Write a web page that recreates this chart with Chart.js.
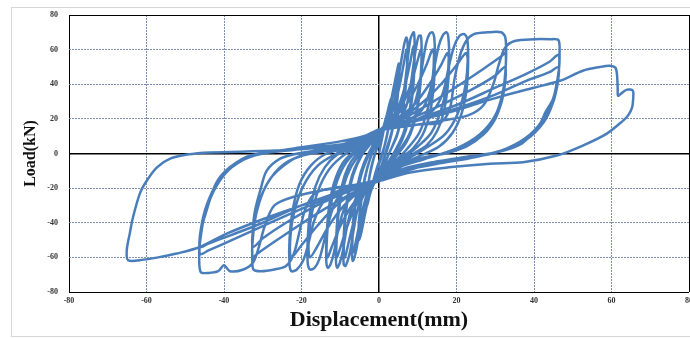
<!DOCTYPE html>
<html><head><meta charset="utf-8">
<script src="https://cdn.jsdelivr.net/npm/chart.js@4"></script>
<style>html,body{margin:0;padding:0;background:#fff;overflow:hidden}</style>
</head><body>
<canvas id="c" width="690" height="338"></canvas>
<script>
// Tick labels
const xTicks = [-80, -60, -40, -20, 0, 20, 40, 60, 80];
const yTicks = [-80, -60, -40, -20, 0, 20, 40, 60, 80];
const xTitle = 'Displacement(mm)';
const yTitle = 'Load(kN)';

// Hysteresis loops: [displacement mm, load kN]
const loop03 = [[0,0],[1,11],[2,22],[3,31],[3.3,32],[3.1,24],[2.4,14],[1.5,5],[0.5,-2],[-0.5,-8],[-1.5,-16],[-2.5,-25],[-3.1,-30],[-3.3,-28],[-2.8,-18],[-2,-8],[-1,0],[0,6],
  [1,14],[2,22],[3,29],[3.2,28],[2.6,17],[1.6,6],[0.5,-3],[-0.8,-11],[-2,-20],[-3,-28],[-3.2,-26],[-2.5,-14],[-1.5,-4],[-0.5,4]];
const loop05 = [[0.5,10],[1.5,16],[2.5,24],[3.5,35],[4.5,46],[5.1,52],[5.3,48],[4.9,36],[4.2,24],[3.2,12],[2,3],[0.8,-6],[-0.5,-13],[-1.5,-18],[-2.6,-25],[-3.6,-35],[-4.5,-45],[-5.1,-50],[-5.3,-45],[-4.9,-32],[-4.1,-19],[-3,-8],[-1.8,0],[-0.5,8],
  [0.5,12],[1.8,19],[3,28],[4.2,40],[5,48],[5.2,44],[4.7,30],[3.8,17],[2.5,5],[1,-5],[-0.3,-13],[-1.8,-20],[-3,-29],[-4.2,-40],[-5,-47],[-5.2,-42],[-4.6,-28],[-3.6,-14],[-2.3,-3],[-0.8,6]];
const loop07 = [[0,12],[1.5,16],[3,22],[4.2,33],[5.2,46],[6,57],[6.6,64],[7.1,67],[7.4,62],[7.3,50],[6.8,36],[5.9,22],[4.6,10],[3,2],[1.2,-7],[0,-14],[-1.5,-18],[-3,-24],[-4.2,-34],[-5.1,-46],[-5.9,-56],[-6.5,-61],[-6.8,-62],[-7,-56],[-6.8,-43],[-6.2,-29],[-5.2,-15],[-3.8,-5],[-2,3],[0,11],
  [2,17],[3.8,26],[5.3,39],[6.4,52],[7.1,60],[7.3,56],[7,42],[6.2,26],[4.8,12],[3,2],[1,-8],[-1,-15],[-3,-23],[-4.6,-36],[-5.8,-49],[-6.6,-57],[-6.9,-55],[-6.6,-40],[-5.8,-25],[-4.4,-11],[-2.5,0],[-0.5,10]];
const loop09 = [[1,13],[3,17],[5,23],[6.2,33],[7,46],[7.6,58],[8.1,66],[8.6,69],[9,70],[9.2,63],[9.1,48],[8.6,33],[7.6,19],[6,8],[4,0],[2,-6],[0,-14],[-2,-18],[-4,-23],[-5.5,-32],[-6.6,-45],[-7.4,-56],[-8.1,-62],[-8.7,-65],[-9.1,-64],[-9.2,-55],[-8.9,-40],[-8.2,-26],[-7,-13],[-5.3,-4],[-3.2,3],[-1.2,8],[0,12],
  [2.5,18],[4.8,26],[6.6,38],[7.9,51],[8.7,60],[9,62],[9.1,55],[8.7,40],[7.8,24],[6.2,11],[4,1],[1.5,-8],[0,-14],[-2.5,-19],[-4.8,-28],[-6.6,-40],[-7.9,-52],[-8.8,-60],[-9.1,-57],[-8.9,-43],[-8.1,-27],[-6.6,-12],[-4.4,-1],[-2,6],[0,12]];
const loop11 = [[2.5,16],[5,20],[7,27],[8.2,40],[9,53],[9.7,63],[10.3,68],[10.8,68],[11,60],[10.8,44],[10.2,30],[9,17],[7.2,7],[5,0],[2.5,-7],[0,-15],[-2.5,-18],[-5,-23],[-7,-31],[-8.4,-44],[-9.3,-56],[-10.1,-63],[-10.8,-66],[-11.1,-62],[-11,-47],[-10.5,-32],[-9.5,-18],[-8,-8],[-6,-1],[-3.5,4],[-1.2,9],[0,13],
  [3,19],[6,28],[8.5,42],[10,54],[10.8,60],[11,56],[10.6,40],[9.6,24],[7.8,11],[5,1],[2,-8],[0,-15],[-3,-20],[-6,-30],[-8.5,-44],[-10.2,-56],[-10.9,-60],[-11,-54],[-10.6,-38],[-9.5,-22],[-7.5,-9],[-4.5,1],[-1.5,8],[0,13]];
const loop14 = [[3,17],[6.5,21],[9,28],[10.4,40],[11.4,54],[12.2,64],[13,69],[13.8,70],[14.3,66],[14.4,52],[14,36],[13,22],[11.3,11],[8.8,3],[6,-2],[3,-8],[0,-15],[-3,-18],[-6.5,-23],[-9,-32],[-10.6,-45],[-11.6,-57],[-12.5,-64],[-13.2,-66],[-13.6,-62],[-13.5,-47],[-12.9,-31],[-11.6,-17],[-9.5,-6],[-7,0],[-4,4],[-1.5,8],[0,13],
  [3.5,20],[7,28],[10,40],[12.4,52],[13.8,60],[14.2,57],[13.8,42],[12.6,26],[10.4,12],[7.4,3],[4,-5],[0,-15],[-3.5,-21],[-7,-30],[-10,-42],[-12.2,-54],[-13.3,-60],[-13.5,-52],[-12.9,-36],[-11.4,-20],[-9,-7],[-5.5,2],[-2,7],[0,13]];
const loop18 = [[4,17],[8,20],[11,25],[13,35],[14.3,50],[15.4,62],[16.4,68],[17.4,70],[17.9,67],[18.1,55],[17.8,40],[16.8,25],[15,13],[12.4,5],[9,0],[5,-6],[0,-15],[-4,-18],[-8,-21],[-11,-27],[-12.8,-38],[-14.2,-51],[-15.4,-61],[-16.6,-66],[-17.8,-67],[-18.4,-63],[-18.4,-50],[-17.8,-34],[-16.4,-19],[-14,-8],[-11,-1],[-7,3],[-3,7],[0,13],
  [4.5,20],[9,28],[13,40],[16,51],[17.6,58],[18,55],[17.5,40],[16,25],[13.5,12],[10,4],[5,-5],[0,-15],[-4.5,-21],[-9,-30],[-13,-42],[-16,-54],[-17.8,-60],[-18.2,-54],[-17.6,-38],[-15.8,-22],[-12.8,-9],[-8.5,0],[-4,5],[0,13]];
const loop23 = [[5,17],[10,20],[14,25],[16.5,35],[18,50],[19.4,62],[20.8,68],[22,69],[22.8,66],[23,52],[22.6,37],[21.3,23],[19,12],[15.5,4],[11,-1],[6,-6],[0,-15],[-5,-18],[-10,-21],[-14,-27],[-16.6,-38],[-18.2,-52],[-19.6,-62],[-21.2,-67],[-22.6,-68],[-23.1,-64],[-23.1,-50],[-22.3,-33],[-20.6,-18],[-17.6,-7],[-13.5,0],[-8.5,3],[-4,7],[0,13],
  [5.5,20],[11,29],[16,40],[20,51],[22.4,58],[22.9,54],[22.2,38],[20.3,23],[17,11],[12,3],[6,-5],[0,-15],[-5.5,-21],[-11,-30],[-16,-42],[-20,-53],[-22.6,-60],[-23,-54],[-22.2,-37],[-19.8,-20],[-15.8,-7],[-10,1],[-4.5,6],[0,13]];
const loop32 = [[6,16],[12,17],[16,18],[18.3,26],[19.4,42],[20.8,56],[22.5,65],[24.5,69],[28,70],[31.5,70],[32.6,67],[32.8,55],[32.4,42],[31.6,30],[30,20],[27,11],[22.5,4],[17,0],[12,-2],[7,-6],[0,-15],
  [-6,-18],[-12,-20],[-16.5,-23],[-19,-32],[-20.6,-46],[-22,-58],[-24,-65],[-27,-67],[-30.5,-68],[-32.4,-67],[-32.7,-60],[-32.6,-45],[-32,-33],[-30.6,-21],[-29,-10],[-25.5,-3],[-21,0],[-14,2.5],[-7,5],[0,13],
  [7,21],[14,30],[21,40],[27,49],[31.5,56],[32.6,58],[32.7,50],[32,36],[30,22],[26,11],[20,3],[12,-3],[5,-8],[0,-15],[-7,-23],[-14,-32],[-21,-42],[-27,-51],[-31.5,-58],[-32.6,-60],[-32.6,-50],[-31.6,-34],[-29,-18],[-24.5,-6],[-18,0],[-10,3],[-4,6],[0,13],
  [8,20],[16,28],[24,37],[30,45],[32.5,50],[32.6,42],[31.4,28],[28.5,15],[23,5],[15,-1],[6,-7],[0,-15],[-8,-22],[-16,-30],[-24,-40],[-30,-49],[-32.5,-54],[-32.5,-44],[-31,-28],[-27.5,-13],[-21,-2],[-12,2],[-4,6],[0,13]];
const loop46 = [[8,16],[16,19],[23,22],[27,28],[29.5,40],[31,52],[32.5,61],[35,65],[40,66],[44,66],[46.3,65.5],[46.6,58],[46.4,48],[45,32],[43,24],[41.5,17],[37,6],[31,1],[24,-1.5],[14,-5],[6,-9],[0,-15],
  [-6,-18],[-14,-21],[-22,-25],[-27,-30],[-29.5,-42],[-31,-54],[-32.5,-63],[-35,-67],[-38.5,-68],[-40,-64.5],[-41.5,-68],[-44,-69],[-46,-68.5],[-46.4,-60],[-46.1,-46],[-44.5,-33],[-42,-17],[-38.5,-8],[-33,-1],[-22,2],[-10,5],[0,13],
  [10,20],[20,28],[30,38],[38,46],[44,53],[46.3,57],[46.4,48],[45.4,35],[43,22],[39,11],[33,3],[25,-2],[15,-6],[6,-10],[0,-15],[-10,-23],[-20,-32],[-30,-42],[-38,-50],[-44,-56],[-46.2,-58],[-46,-48],[-44.8,-34],[-42,-19],[-38,-8],[-32,-1],[-20,3],[-8,6],[0,13],
  [10,19],[20,26],[30,34],[38,42],[44,47],[46.3,50],[46.2,42],[45,30],[42.5,18],[38,8],[31,1],[22,-3],[12,-7],[0,-15],[-10,-22],[-20,-30],[-30,-40],[-38,-47],[-44,-52],[-46.2,-54],[-46,-44],[-44.5,-30],[-41.5,-16],[-37,-6],[-30,0],[-18,3],[-7,6],[0,13]];
const loop65 = [[10,19],[20,25],[30,32],[40,38],[46.7,42],[52.6,47.8],[57,50],[59.6,50.7],[61,49.6],[61.4,46],[61.6,38],[61.7,33.4],[62.7,35],[64,36.9],[65.5,36.3],[65.6,32],[65.3,26.5],[64.3,22],[63,19],[58.8,11.5],[52.6,4.6],[45.9,-1.2],[37.2,-5],[28.6,-5.9],[18,-8],[8,-11],[0,-16],
  [-10,-22],[-20,-30],[-30,-38],[-40,-47],[-46.2,-54],[-52.2,-57.8],[-57,-60],[-60.8,-61.3],[-64.7,-61.7],[-65.1,-56],[-64.3,-46],[-63.5,-37],[-61.7,-23],[-59.9,-15.6],[-57.3,-8],[-53.9,-3],[-49.5,-0.6],[-43.6,0.6],[-26.3,1.7],[-20.4,3.5],[-10,7],[-4,10],[0,14]];

const allPoints = [].concat(loop03, loop05, loop07, loop09, loop11, loop14, loop18, loop23, loop32, loop46, loop65)
  .map(p => ({x: p[0], y: p[1]}));

const isEdge = v => v === 0 || Math.abs(v) === 80;

const framePlugin = {
  id: 'frame',
  beforeDraw(chart) {
    const ctx = chart.ctx;
    ctx.save();
    ctx.fillStyle = '#fff';
    ctx.fillRect(0, 0, chart.width, chart.height);
    ctx.strokeStyle = '#d6d6d6';
    ctx.lineWidth = 1;
    ctx.strokeRect(11.5, 7.5, 700, 329);
    ctx.restore();
  }
};

const serif = "'Liberation Serif', 'Times New Roman', serif";
const tickFont = {family: serif, weight: 'bold', size: 8};

new Chart(document.getElementById('c'), {
  type: 'scatter',
  data: {
    datasets: [{
      data: allPoints,
      showLine: true,
      borderColor: '#4a7ebb',
      borderWidth: 2.5,
      pointRadius: 0,
      tension: 0.3,
      fill: false
    }]
  },
  options: {
    responsive: false,
    animation: false,
    devicePixelRatio: 1,
    layout: {padding: {top: 15, right: 1, left: 0, bottom: 0}},
    plugins: {legend: {display: false}, tooltip: {enabled: false}},
    scales: {
      x: {
        type: 'linear', min: xTicks[0], max: xTicks[xTicks.length - 1],
        afterBuildTicks: s => { s.ticks = xTicks.map(v => ({value: v})); },
        afterFit: s => { s.height = 46; s.paddingLeft = 0; s.paddingRight = 0; },
        ticks: {font: tickFont, color: '#333', padding: 4, maxRotation: 0, autoSkip: false},
        grid: {
          drawTicks: false,
          color: c => (c.tick && isEdge(c.tick.value)) ? '#000' : '#7d8fb0',
          lineWidth: c => (c.tick && c.tick.value === 0) ? 1.5 : 1
        },
        border: {display: false, dash: c => (c.tick && !isEdge(c.tick.value)) ? [2, 1] : []},
        title: {display: true, text: xTitle, color: '#111',
          font: {family: serif, weight: 'bold', size: 22},
          padding: {top: 0, bottom: 4}}
      },
      y: {
        type: 'linear', min: yTicks[0], max: yTicks[yTicks.length - 1],
        afterBuildTicks: s => { s.ticks = yTicks.map(v => ({value: v})); },
        afterFit: s => { s.width = 69; s.paddingTop = 0; s.paddingBottom = 0; },
        ticks: {font: tickFont, color: '#333', padding: 11},
        grid: {
          drawTicks: false,
          color: c => (c.tick && isEdge(c.tick.value)) ? '#000' : '#7d8fb0',
          lineWidth: c => (c.tick && c.tick.value === 0) ? 1.5 : 1
        },
        border: {display: false, dash: c => (c.tick && !isEdge(c.tick.value)) ? [2, 1] : []},
        title: {display: true, text: yTitle, color: '#111',
          font: {family: serif, weight: 'bold', size: 16},
          padding: {top: 21, bottom: 0}}
      }
    }
  },
  plugins: [framePlugin]
});
</script>
</body></html>
